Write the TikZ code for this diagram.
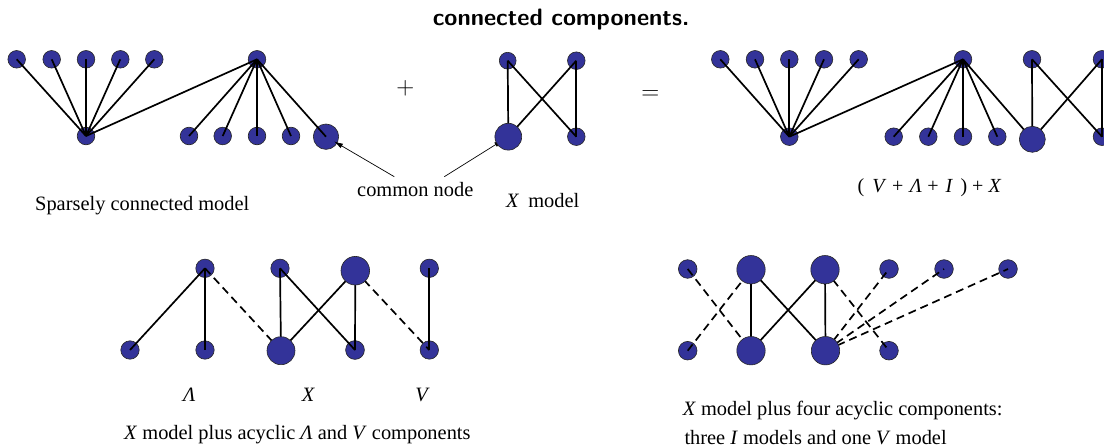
\documentclass[tikz,border=0pt]{standalone}
\usepackage{fontspec}
\setmainfont{Liberation Serif}
\usetikzlibrary{arrows.meta}
\pgfdeclarelayer{edges}
\pgfdeclarelayer{front}
\pgfsetlayers{main,edges,front}
\definecolor{nodeblue}{RGB}{51,51,153}
\begin{document}
\begin{tikzpicture}[x=1pt,y=-1pt,
  vtx/.style={circle,fill=nodeblue,draw=black!85,line width=0.6pt,inner sep=0pt,minimum size=17.6pt},
  bigvtx/.style={vtx,minimum size=26.8pt},
  edge/.style={line width=1.7pt,black},
  dedge/.style={edge,dash pattern=on 8pt off 5pt},
  ptr/.style={line width=0.7pt,-{Latex[length=9pt,width=5pt]}},
  lbl/.style={inner sep=0pt,font=\fontsize{20.4}{24}\selectfont},
  sym/.style={inner sep=0pt,font=\fontsize{29}{30}\selectfont},
]
\useasboundingbox (0,0) rectangle (1104,447);
\clip (0,0) rectangle (1104,447);

% ---------- title ----------
\node[inner sep=0pt,anchor=base west,font=\sffamily\bfseries\fontsize{23.7}{28}\selectfont] (title) at (432.7,25) {connected components.};

% ---------- A: sparsely connected model ----------
\foreach \i/\x in {1/16.7,2/51.7,3/86,4/120.3,5/154.3}
  \node[vtx] (at\i) at (\x,59.3) {};
\node[vtx] (ah1) at (86,136) {};
\node[vtx] (ah2) at (257,59.3) {};
\foreach \i/\x in {1/189,2/222.7,3/257,4/291}
  \node[vtx] (ab\i) at (\x,136) {};
\node[bigvtx,minimum size=25.4pt] (acn) at (326,136.7) {};
\begin{pgfonlayer}{edges}
  \foreach \i in {1,...,5} \draw[edge] (at\i.center) -- (ah1.center);
  \draw[edge] (ah1.center) -- (ah2.center);
  \foreach \i in {1,...,4} \draw[edge] (ah2.center) -- (ab\i.center);
  \draw[edge] (ah2.center) -- (acn.center);
\end{pgfonlayer}
\node[lbl,anchor=base west] (alab) at (35,210.5) {Sparsely connected model};

% ---------- plus / equals ----------
\node[sym] (plus) at (405.3,88.3) {$+$};
\node[sym] (eq) at (650.3,95) {$=$};

% ---------- B: X model ----------
\node[vtx,minimum size=16.8pt] (btl) at (507.7,60.7) {};
\node[vtx] (btr) at (576.3,60.7) {};
\node[vtx] (bbr) at (576.3,136.7) {};
\begin{pgfonlayer}{front}
  \node[bigvtx] (bbl) at (508.3,136.7) {};
\end{pgfonlayer}
\begin{pgfonlayer}{edges}
  \draw[edge] (btl.center) -- (bbl.center);
  \draw[edge] (btl.center) -- (bbr.center);
  \draw[edge] (bbl.center) -- (btr.center);
  \draw[edge] (btr.center) -- (bbr.center);
\end{pgfonlayer}
\node[lbl,anchor=base west] (blab) at (506,207) {\textit{X}\hspace{9pt}model};

% ---------- common node arrows ----------
\node[lbl,anchor=base west] (cn) at (357,196.7) {common node};
\coordinate (p1) at (394.3,176.7);
\coordinate (p2) at (444.3,176.7);
\draw[ptr,shorten >=9.3pt] (p1) -- (acn.center);
\draw[ptr,shorten >=6pt] (p2) -- (bbl.center);

% ---------- C: combined ----------
\foreach \i/\x in {1/720.3,2/755,3/789.3,4/824,5/858.7}
  \node[vtx] (ct\i) at (\x,59.3) {};
\node[vtx] (ch1) at (789.3,136.7) {};
\node[vtx] (ch2) at (963,59.3) {};
\foreach \i/\x in {1/893.7,2/928.3,3/963,4/997.3}
  \node[vtx] (cb\i) at (\x,136.7) {};
\node[vtx] (cxtl) at (1032,59.3) {};
\node[vtx] (cxtr) at (1102,59.3) {};
\node[vtx] (cxbr) at (1102,136.7) {};
\begin{pgfonlayer}{front}
  \node[bigvtx,minimum size=26pt] (cbig) at (1032.3,139.3) {};
\end{pgfonlayer}
\begin{pgfonlayer}{edges}
  \foreach \i in {1,...,5} \draw[edge] (ct\i.center) -- (ch1.center);
  \draw[edge] (ch1.center) -- (ch2.center);
  \foreach \i in {1,...,4} \draw[edge] (ch2.center) -- (cb\i.center);
  \draw[edge] (ch2.center) -- (cbig.center);
  \draw[edge] (cxtl.center) -- (cbig.center);
  \draw[edge] (cxtl.center) -- (cxbr.center);
  \draw[edge] (cbig.center) -- (cxtr.center);
  \draw[edge] (cxtr.center) -- (cxbr.center);
\end{pgfonlayer}
\node[inner sep=0pt,anchor=base west,font=\fontsize{20}{24}\selectfont] (clab) at (857.5,192.7)
  {(\hspace{8pt}\textit{V}\hspace{5.5pt}+\hspace{6.5pt}\textit{Λ}\hspace{5.5pt}+\hspace{7pt}\textit{I}\hspace{7.5pt})\hspace{5pt}+\hspace{5pt}\textit{X}};

% ---------- D: X model plus acyclic Lambda and V ----------
\node[vtx,minimum size=18.4pt] (dlt) at (205,268.3) {};
\node[vtx,minimum size=18.4pt] (dlb1) at (130,350) {};
\node[vtx,minimum size=18.4pt] (dlb2) at (205,350) {};
\node[vtx,minimum size=18.4pt] (dxtl) at (280,268.3) {};
\node[vtx,minimum size=18.8pt] (dxbr) at (355,350) {};
\node[vtx,minimum size=18.4pt] (dvt) at (429.3,268.3) {};
\node[vtx,minimum size=18.4pt] (dvb) at (429.3,350) {};
\begin{pgfonlayer}{front}
  \node[bigvtx,minimum size=28pt] (dxbl) at (281,350.7) {};
  \node[bigvtx,minimum size=28.6pt] (dxtr) at (355.3,270.7) {};
\end{pgfonlayer}
\begin{pgfonlayer}{edges}
  \draw[edge] (dlt.center) -- (dlb1.center);
  \draw[edge] (dlt.center) -- (dlb2.center);
  \draw[dedge] (dlt.center) -- (dxbl.center);
  \draw[edge] (dxtl.center) -- (dxbl.center);
  \draw[edge] (dxtl.center) -- (dxbr.center);
  \draw[edge] (dxbl.center) -- (dxtr.center);
  \draw[edge] (dxtr.center) -- (dxbr.center);
  \draw[dedge] (dxtr.center) -- (dvb.center);
  \draw[edge] (dvt.center) -- (dvb.center);
\end{pgfonlayer}
\node[lbl,anchor=base] (dl1) at (189.2,401.3) {\textit{Λ}};
\node[lbl,anchor=base] (dl2) at (308.5,401.3) {\textit{X}};
\node[lbl,anchor=base] (dl3) at (422.7,401.3) {\textit{V}};
\node[lbl,anchor=base west] (dcap) at (124,439) {\textit{X} model plus acyclic \textit{Λ} and \textit{V} components};

% ---------- E: X model plus four acyclic components ----------
\node[vtx,minimum size=18.6pt] (eit) at (687.7,269) {};
\node[vtx,minimum size=18.6pt] (eib) at (687.7,350.7) {};
\node[vtx,minimum size=18.6pt] (er1) at (889,269) {};
\node[vtx,minimum size=18.6pt] (er2) at (944,269) {};
\node[vtx,minimum size=18.6pt] (er3) at (1008,269) {};
\node[vtx,minimum size=18.6pt] (er4) at (889,350.7) {};
\begin{pgfonlayer}{front}
  \node[bigvtx,minimum size=28.4pt] (extl) at (751,269.7) {};
  \node[bigvtx,minimum size=28.4pt] (exbl) at (751,350.7) {};
  \node[bigvtx,minimum size=28.4pt] (extr) at (825,269.7) {};
  \node[bigvtx,minimum size=28.4pt] (exbr) at (825.5,350.7) {};
\end{pgfonlayer}
\begin{pgfonlayer}{edges}
  \draw[edge] (extl.center) -- (exbl.center);
  \draw[edge] (extl.center) -- (exbr.center);
  \draw[edge] (exbl.center) -- (extr.center);
  \draw[edge] (extr.center) -- (exbr.center);
  \draw[dedge] (eit.center) -- (exbl.center);
  \draw[dedge] (eib.center) -- (extl.center);
  \draw[dedge] (extr.center) -- (er4.center);
  \draw[dedge] (exbr.center) -- (er1.center);
  \draw[dedge] (exbr.center) -- (er2.center);
  \draw[dedge] (exbr.center) -- (er3.center);
\end{pgfonlayer}
\node[lbl,anchor=base west] (ecap1) at (682.7,415.7) {\textit{X} model plus four acyclic components:};
\node[lbl,anchor=base west] (ecap2) at (684.3,444) {three \textit{I} models and one \textit{V} model};
\end{tikzpicture}
\end{document}
